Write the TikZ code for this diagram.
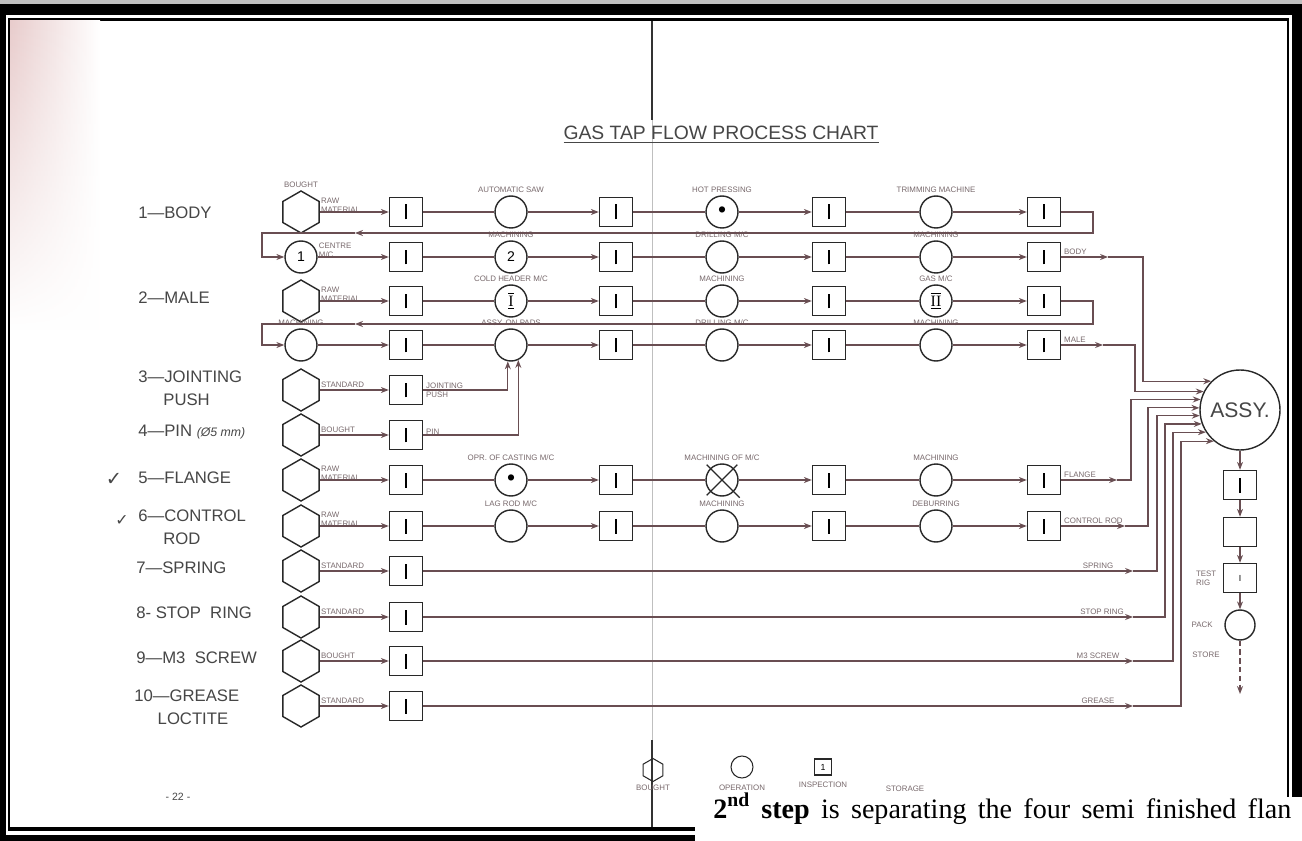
\documentclass[tikz,border=0pt]{standalone}
\usepackage{fontspec}
\setmainfont{Liberation Sans}
\newfontfamily\bookfont{Liberation Serif}
\newfontfamily\symfont{DejaVu Sans}
\usetikzlibrary{shapes.geometric, arrows.meta, positioning, calc, fadings}

\definecolor{ink}{RGB}{40,40,40}
\definecolor{wire}{RGB}{105,78,82}
\definecolor{lbl}{RGB}{70,70,70}
\definecolor{faint}{RGB}{120,105,108}
\definecolor{blush}{RGB}{232,204,204}

\newcommand\insbar{\rule{0.9pt}{0.3cm}}
\newcommand\romn[1]{{\bookfont\fontsize{9}{9}\selectfont$\overline{\underline{\hbox{#1}}}$}}

\begin{document}
\begin{tikzpicture}[
  x=0.02cm, y=-0.02cm,
  hexa/.style={regular polygon, regular polygon sides=6, shape border rotate=30, draw=ink, line width=0.8pt, minimum size=0.84cm, inner sep=0pt},
  opc/.style={circle, draw=ink, line width=0.8pt, minimum size=0.64cm, inner sep=0pt, font=\fontsize{8}{8}\selectfont},
  insp/.style={rectangle, draw=ink, line width=0.8pt, minimum width=0.66cm, minimum height=0.58cm, inner sep=0pt},
  part/.style={anchor=west, text=lbl, font=\fontsize{9.5}{13}\selectfont, align=left, inner sep=0pt},
  tag/.style={text=faint, font=\fontsize{4.5}{5}\selectfont, align=left, inner sep=0.5pt},
  flow/.style={draw=wire, line width=0.7pt},
  arr/.style={flow, -{Stealth[length=4.5pt, width=3.4pt]}}
]
\useasboundingbox (0,0) rectangle (1302,841);

% scanned page and its frame
\fill[black] (0,0) rectangle (1302,841);
\fill[black!25] (0,0) rectangle (1302,4);
\fill[white] (6,15) rectangle (1292,835);
\fill[black] (8,18) rectangle (1289,831);
\fill[white] (10,21) rectangle (1287,827);
\shade[left color=blush, right color=white, path fading=south] (10,21) rectangle (100,330);
\draw[black!80, line width=0.6pt] (652,21) -- (652,120);
\draw[black!25, line width=0.5pt] (652,120) -- (652,740);
\draw[black!80, line width=0.6pt] (652,740) -- (652,827);

\node[text=lbl, font=\fontsize{11}{12}\selectfont] (title) at (721,135) {\underline{GAS TAP FLOW PROCESS CHART}};

% part names
\node[part] (lab1) at (138,213) {1—BODY};
\node[part] (lab2) at (138,298) {2—MALE};
\node[part] (lab3) at (138,388) {3—JOINTING\\\hspace*{1.5em}PUSH};
\node[part] (lab4) at (138,432) {4—PIN {\itshape\fontsize{7}{7}\selectfont(Ø5 mm)}};
\node[part] (lab5) at (138,478) {5—FLANGE};
\node[part] (lab6) at (138,527) {6—CONTROL\\\hspace*{1.5em}ROD};
\node[part] (lab7) at (136,568) {7—SPRING};
\node[part] (lab8) at (136,613) {8- STOP\ \ RING};
\node[part] (lab9) at (136,658) {9—M3\ \ SCREW};
\node[part] (lab10) at (134,707) {10—GREASE\\\hspace*{1.4em}LOCTITE};
\node[text=lbl, font={\symfont\fontsize{11}{11}\selectfont}] (tick5) at (114,479) {✓};
\node[text=lbl, font={\symfont\fontsize{9}{9}\selectfont}] (tick6) at (122,521) {✓};

% 1 - body
\node[hexa] (h1) at (301,212) {};
\node[tag, above=1pt of h1] (h1t) {BOUGHT};
\node[tag, right=0pt of h1, yshift=4pt] (h1s) {RAW\\MATERIAL};
\node[insp] (b11) at (406,212) {\insbar};
\node[opc] (c11) at (511,212) {};
\node[tag, above=1pt of c11] (c11t) {AUTOMATIC SAW};
\node[insp] (b12) at (616,212) {\insbar};
\node[opc, font=\fontsize{13}{13}\selectfont] (c12) at (722,212) {\textbullet};
\node[tag, above=1pt of c12] (c12t) {HOT PRESSING};
\node[insp] (b13) at (829,212) {\insbar};
\node[opc] (c13) at (936,212) {};
\node[tag, above=1pt of c13] (c13t) {TRIMMING MACHINE};
\node[insp] (b14) at (1044,212) {\insbar};

\node[opc] (c1b0) at (301,257) {1};
\node[tag, right=0pt of c1b0, yshift=4pt] (c1b0s) {CENTRE\\M/C};
\node[insp] (b1b1) at (406,257) {\insbar};
\node[opc] (c1b1) at (511,257) {2};
\node[tag, above=1pt of c1b1] (c1b1t) {MACHINING};
\node[insp] (b1b2) at (616,257) {\insbar};
\node[opc] (c1b2) at (722,257) {};
\node[tag, above=1pt of c1b2] (c1b2t) {DRILLING M/C};
\node[insp] (b1b3) at (829,257) {\insbar};
\node[opc] (c1b3) at (936,257) {};
\node[tag, above=1pt of c1b3] (c1b3t) {MACHINING};
\node[insp] (b1b4) at (1044,257) {\insbar};
\node[tag, right=1pt of b1b4, yshift=3pt] (b1b4s) {BODY};

% 2 - male
\node[hexa] (h2) at (301,301) {};
\node[tag, right=0pt of h2, yshift=4pt] (h2s) {RAW\\MATERIAL};
\node[insp] (b21) at (406,301) {\insbar};
\node[opc] (c21) at (511,301) {\romn{I}};
\node[tag, above=1pt of c21] (c21t) {COLD HEADER M/C};
\node[insp] (b22) at (616,301) {\insbar};
\node[opc] (c22) at (722,301) {};
\node[tag, above=1pt of c22] (c22t) {MACHINING};
\node[insp] (b23) at (829,301) {\insbar};
\node[opc] (c23) at (936,301) {\romn{II}};
\node[tag, above=1pt of c23] (c23t) {GAS M/C};
\node[insp] (b24) at (1044,301) {\insbar};

\node[opc] (c2b0) at (301,345) {};
\node[tag, above=1pt of c2b0] (c2b0t) {MACHINING};
\node[insp] (b2b1) at (406,345) {\insbar};
\node[opc] (c2b1) at (511,345) {};
\node[tag, above=1pt of c2b1] (c2b1t) {ASSY. ON PADS};
\node[insp] (b2b2) at (616,345) {\insbar};
\node[opc] (c2b2) at (722,345) {};
\node[tag, above=1pt of c2b2] (c2b2t) {DRILLING M/C};
\node[insp] (b2b3) at (829,345) {\insbar};
\node[opc] (c2b3) at (936,345) {};
\node[tag, above=1pt of c2b3] (c2b3t) {MACHINING};
\node[insp] (b2b4) at (1044,345) {\insbar};
\node[tag, right=1pt of b2b4, yshift=3pt] (b2b4s) {MALE};

% 3 - jointing push, 4 - pin
\node[hexa] (h3) at (301,390) {};
\node[tag, right=0pt of h3, yshift=3pt] (h3s) {STANDARD};
\node[insp] (b31) at (406,390) {\insbar};
\node[tag, right=1pt of b31] (b31s) {JOINTING\\PUSH};
\node[hexa] (h4) at (301,435) {};
\node[tag, right=0pt of h4, yshift=3pt] (h4s) {BOUGHT};
\node[insp] (b41) at (406,435) {\insbar};
\node[tag, right=1pt of b41, yshift=2pt] (b41s) {PIN};

% 5 - flange
\node[hexa] (h5) at (301,480) {};
\node[tag, right=0pt of h5, yshift=4pt] (h5s) {RAW\\MATERIAL};
\node[insp] (b51) at (406,480) {\insbar};
\node[opc, font=\fontsize{13}{13}\selectfont] (c51) at (511,480) {\textbullet};
\node[tag, above=1pt of c51] (c51t) {OPR. OF CASTING M/C};
\node[insp] (b52) at (616,480) {\insbar};
\node[opc] (c52) at (722,480) {};
\node[tag, above=1pt of c52] (c52t) {MACHINING OF M/C};
\node[insp] (b53) at (829,480) {\insbar};
\node[opc] (c53) at (936,480) {};
\node[tag, above=1pt of c53] (c53t) {MACHINING};
\node[insp] (b54) at (1044,480) {\insbar};
\node[tag, right=1pt of b54, yshift=3pt] (b54s) {FLANGE};
\draw[ink, line width=0.7pt] ($(c52.135)!-0.15!(c52.-45)$) -- ($(c52.-45)!-0.25!(c52.135)$);
\draw[ink, line width=0.7pt] ($(c52.45)!-0.15!(c52.-135)$) -- ($(c52.-135)!-0.15!(c52.45)$);

% 6 - control rod
\node[hexa] (h6) at (301,526) {};
\node[tag, right=0pt of h6, yshift=4pt] (h6s) {RAW\\MATERIAL};
\node[insp] (b61) at (406,526) {\insbar};
\node[opc] (c61) at (511,526) {};
\node[tag, above=1pt of c61] (c61t) {LAG ROD M/C};
\node[insp] (b62) at (616,526) {\insbar};
\node[opc] (c62) at (722,526) {};
\node[tag, above=1pt of c62] (c62t) {MACHINING};
\node[insp] (b63) at (829,526) {\insbar};
\node[opc] (c63) at (936,526) {};
\node[tag, above=1pt of c63] (c63t) {DEBURRING};
\node[insp] (b64) at (1044,526) {\insbar};
\node[tag, right=1pt of b64, yshift=3pt] (b64s) {CONTROL ROD};

% 7 to 10 - bought and standard parts
\node[hexa] (h7) at (301,571) {};
\node[tag, right=0pt of h7, yshift=3pt] (h7s) {STANDARD};
\node[insp] (b71) at (406,571) {\insbar};
\node[hexa] (h8) at (301,617) {};
\node[tag, right=0pt of h8, yshift=3pt] (h8s) {STANDARD};
\node[insp] (b81) at (406,617) {\insbar};
\node[hexa] (h9) at (301,661) {};
\node[tag, right=0pt of h9, yshift=3pt] (h9s) {BOUGHT};
\node[insp] (b91) at (406,661) {\insbar};
\node[hexa] (h10) at (301,706) {};
\node[tag, right=0pt of h10, yshift=3pt] (h10s) {STANDARD};
\node[insp] (b101) at (406,706) {\insbar};
\node[tag] (s7) at (1098,566) {SPRING};
\node[tag] (s8) at (1102,612) {STOP RING};
\node[tag] (s9) at (1098,656) {M3 SCREW};
\node[tag] (s10) at (1098,701) {GREASE};

% assembly and final steps
\node[circle, draw=ink, line width=0.8pt, minimum size=1.6cm, inner sep=0pt, text=lbl, font=\fontsize{12}{12}\selectfont] (assy) at (1240,410) {ASSY.};
\node[insp] (f1) at (1240,485) {\insbar};
\node[insp] (f2) at (1240,532) {};
\node[insp] (f3) at (1240,578) {\fontsize{5}{5}\selectfont I};
\node[opc, minimum size=0.6cm] (f4) at (1240,625) {};
\node[tag, left=3pt of f3] (f3s) {TEST\\RIG};
\node[tag, left=6pt of f4] (f4s) {PACK};
\node[tag] (f5s) at (1206,655) {STORE};
\coordinate (fend) at (1240,694);

% legend
\node[hexa, minimum size=0.46cm, line width=0.6pt] (lg1) at (653,770) {};
\node[opc, minimum size=0.44cm, line width=0.6pt] (lg2) at (742,767) {};
\node[insp, minimum width=0.34cm, minimum height=0.32cm, line width=0.6pt, font=\fontsize{5}{5}\selectfont] (lg3) at (823,767) {1};
\node[tag, below=1pt of lg1] (lg1t) {BOUGHT};
\node[tag, below=3pt of lg2] (lg2t) {OPERATION};
\node[tag, below=3pt of lg3] (lg3t) {INSPECTION};
\node[tag] (lg4t) at (905,789) {STORAGE};
\node[text=lbl, font=\fontsize{6}{6}\selectfont] (pageno) at (178,797) {- 22 -};

% connectors
\coordinate (t1r) at (1093,233); \coordinate (t1m) at (355,233); \coordinate (t1l) at (262,233);
\coordinate (t2r) at (1093,324); \coordinate (t2m) at (355,324); \coordinate (t2l) at (262,324);
\coordinate (a1) at (1108,257); \coordinate (k1) at (1143,0);
\coordinate (a2) at (1103,345); \coordinate (k2) at (1135,0);
\coordinate (a5) at (1117,480); \coordinate (k5) at (1131,0);
\coordinate (a6) at (1125,526); \coordinate (k6) at (1148,0);
\coordinate (a7) at (1133,571); \coordinate (k7) at (1157,0);
\coordinate (a8) at (1133,617); \coordinate (k8) at (1165,0);
\coordinate (a9) at (1133,661); \coordinate (k9) at (1173,0);
\coordinate (a10) at (1133,706); \coordinate (k10) at (1181,0);

\draw[arr] (h1) -- (b11); \draw[flow] (b11) -- (c11); \draw[arr] (c11) -- (b12);
\draw[flow] (b12) -- (c12); \draw[arr] (c12) -- (b13); \draw[flow] (b13) -- (c13); \draw[arr] (c13) -- (b14);
\draw[arr] (b14) -| (t1r) -- (t1m);
\draw[arr] (t1m) -- (t1l) |- (c1b0);
\draw[arr] (c1b0) -- (b1b1); \draw[flow] (b1b1) -- (c1b1); \draw[arr] (c1b1) -- (b1b2);
\draw[flow] (b1b2) -- (c1b2); \draw[arr] (c1b2) -- (b1b3); \draw[flow] (b1b3) -- (c1b3); \draw[arr] (c1b3) -- (b1b4);

\draw[arr] (h2) -- (b21); \draw[flow] (b21) -- (c21); \draw[arr] (c21) -- (b22);
\draw[flow] (b22) -- (c22); \draw[arr] (c22) -- (b23); \draw[flow] (b23) -- (c23); \draw[arr] (c23) -- (b24);
\draw[arr] (b24) -| (t2r) -- (t2m);
\draw[arr] (t2m) -- (t2l) |- (c2b0);
\draw[arr] (c2b0) -- (b2b1); \draw[flow] (b2b1) -- (c2b1); \draw[arr] (c2b1) -- (b2b2);
\draw[flow] (b2b2) -- (c2b2); \draw[arr] (c2b2) -- (b2b3); \draw[flow] (b2b3) -- (c2b3); \draw[arr] (c2b3) -- (b2b4);

\draw[arr] (h3) -- (b31); \draw[arr] (b31) -| (c2b1.-101);
\draw[arr] (h4) -- (b41); \draw[arr] (b41) -| (c2b1.-64);

\draw[arr] (h5) -- (b51); \draw[flow] (b51) -- (c51); \draw[arr] (c51) -- (b52);
\draw[flow] (b52) -- (c52); \draw[arr] (c52) -- (b53); \draw[flow] (b53) -- (c53); \draw[arr] (c53) -- (b54);
\draw[arr] (h6) -- (b61); \draw[flow] (b61) -- (c61); \draw[arr] (c61) -- (b62);
\draw[flow] (b62) -- (c62); \draw[arr] (c62) -- (b63); \draw[flow] (b63) -- (c63); \draw[arr] (c63) -- (b64);

\draw[arr] (h7) -- (b71); \draw[arr] (h8) -- (b81); \draw[arr] (h9) -- (b91); \draw[arr] (h10) -- (b101);
\draw[arr] (b71) -- (a7); \draw[arr] (b81) -- (a8); \draw[arr] (b91) -- (a9); \draw[arr] (b101) -- (a10);

% feeds into assembly
\draw[arr] (b1b4) -- (a1); \draw[arr] (a1) -| (assy.135.6 -| k1) -- (assy.135.6);
\draw[arr] (b2b4) -- (a2); \draw[arr] (a2) -| (assy.153.3 -| k2) -- (assy.153.3);
\draw[arr] (b54) -- (a5); \draw[arr] (a5) -| (assy.165.5 -| k5) -- (assy.165.5);
\draw[arr] (b64) -- (a6); \draw[arr] (a6) -| (assy.177.1 -| k6) -- (assy.177.1);
\draw[arr] (a7) -| (assy.188.6 -| k7) -- (assy.188.6);
\draw[arr] (a8) -| (assy.200.5 -| k8) -- (assy.200.5);
\draw[arr] (a9) -| (assy.213.4 -| k9) -- (assy.213.4);
\draw[arr] (a10) -| (assy.230.8 -| k10) -- (assy.230.8);

\draw[arr] (assy) -- (f1); \draw[arr] (f1) -- (f2); \draw[arr] (f2) -- (f3); \draw[arr] (f3) -- (f4);
\draw[arr, densely dashed] (f4) -- (fend);

% cut-off text of the next page
\fill[white] (695,797) rectangle (1302,841);
\node[anchor=base west, inner sep=0pt, font=\bookfont\fontsize{16}{18}\selectfont] (nexttxt) at (713,818) {\spaceskip=0.4em\relax\textbf{2\textsuperscript{nd} step} is separating the four semi finished flan};
\end{tikzpicture}
\end{document}
